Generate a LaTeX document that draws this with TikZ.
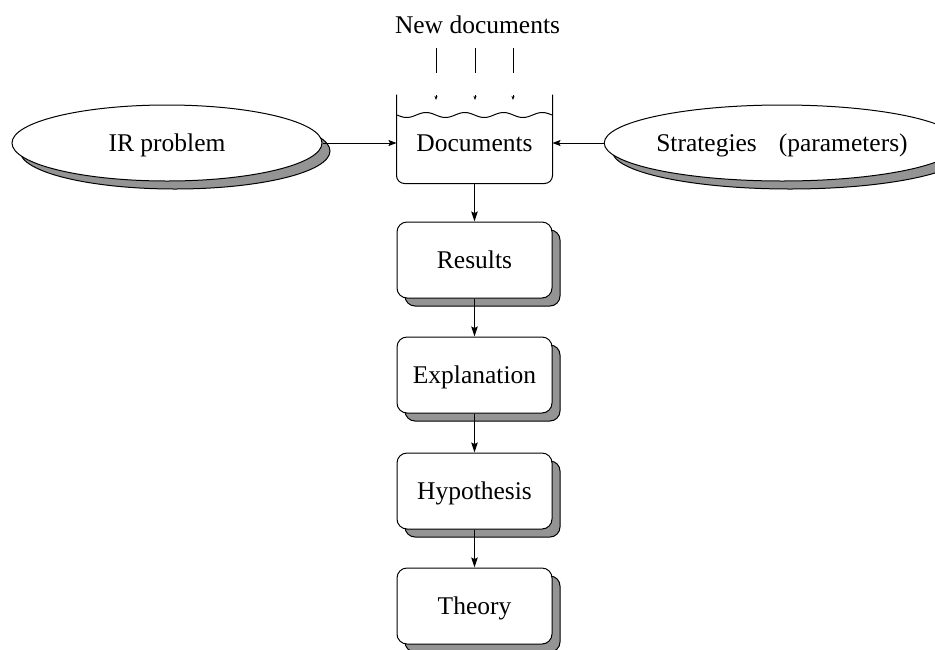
\documentclass[tikz,border=0pt]{standalone}
\usepackage{fontspec}
\setmainfont{Liberation Serif}
\usetikzlibrary{arrows.meta,shapes.geometric,shadows}
\begin{document}
\begin{tikzpicture}[x=1pt,y=-1pt,line width=1pt,
  font=\fontsize{25.5}{30}\selectfont,
  shadowed/.style={drop shadow={shadow xshift=8pt,shadow yshift=-8pt,
      fill=black!42,draw=black,opacity=1}},
  stagebox/.style={draw,fill=white,rounded corners=10pt,minimum width=155pt,
      minimum height=76pt,inner sep=0pt,text height=17pt,text depth=0pt,shadowed},
  oval/.style={draw,fill=white,ellipse,minimum width=310pt,minimum height=76pt,
      inner sep=0pt,text height=17pt,text depth=0pt,shadowed},
  flow/.style={-{Stealth[length=10pt,width=6.5pt,inset=1.5pt]}},
  feed/.style={-{Stealth[length=8pt,width=6pt,inset=1.5pt]}},
  drip/.style={-{Stealth[length=4pt,width=3pt,inset=1pt]}}]
\useasboundingbox (0,0) rectangle (935,649);

% incoming documents
\node[anchor=base] (newdocs) at (477.5,33) {New documents};
\foreach \i/\x in {1/436,2/475,3/513}{
  \coordinate (in\i a) at (\x,48);
  \coordinate (in\i b) at (\x,73);
  \coordinate (in\i c) at (\x,95);
  \coordinate (in\i d) at (\x,100);
  \draw (in\i a) -- (in\i b);
  \draw[drip] (in\i c) -- (in\i d);
}

% the open document store
\node[minimum width=155pt,minimum height=88pt,inner sep=0pt] (store) at (474.5,139) {};
\draw[rounded corners=8pt] (store.north west) -- (store.south west)
  -- (store.south east) -- (store.north east);
\draw plot[domain=397:552,samples=120,smooth]
  (\x,{115+2.5*sin((\x-397)/155*4*360)});
\node[text height=17pt,text depth=0pt,inner sep=0pt] (docs) at (474.5,143) {Documents};

% side inputs
\node[oval] (irp) at (167,143) {IR problem};
\node[oval] (strat) at (782,143) {Strategies\hspace{22pt}(parameters)};
\draw[feed] (irp.east) -- (irp.east -| store.west);
\draw[feed] (strat.west) -- (strat.west -| store.east);

% chain of stages
\node[stagebox] (results) at (474.5,260) {Results};
\node[stagebox] (expl) at (474.5,375) {Explanation};
\node[stagebox] (hyp) at (474.5,491) {Hypothesis};
\node[stagebox] (theory) at (474.5,606) {Theory};

\draw[flow] (store.south) -- (results.north);
\draw[flow] (results.south) -- (expl.north);
\draw[flow] (expl.south) -- (hyp.north);
\draw[flow] (hyp.south) -- (theory.north);
\end{tikzpicture}
\end{document}
